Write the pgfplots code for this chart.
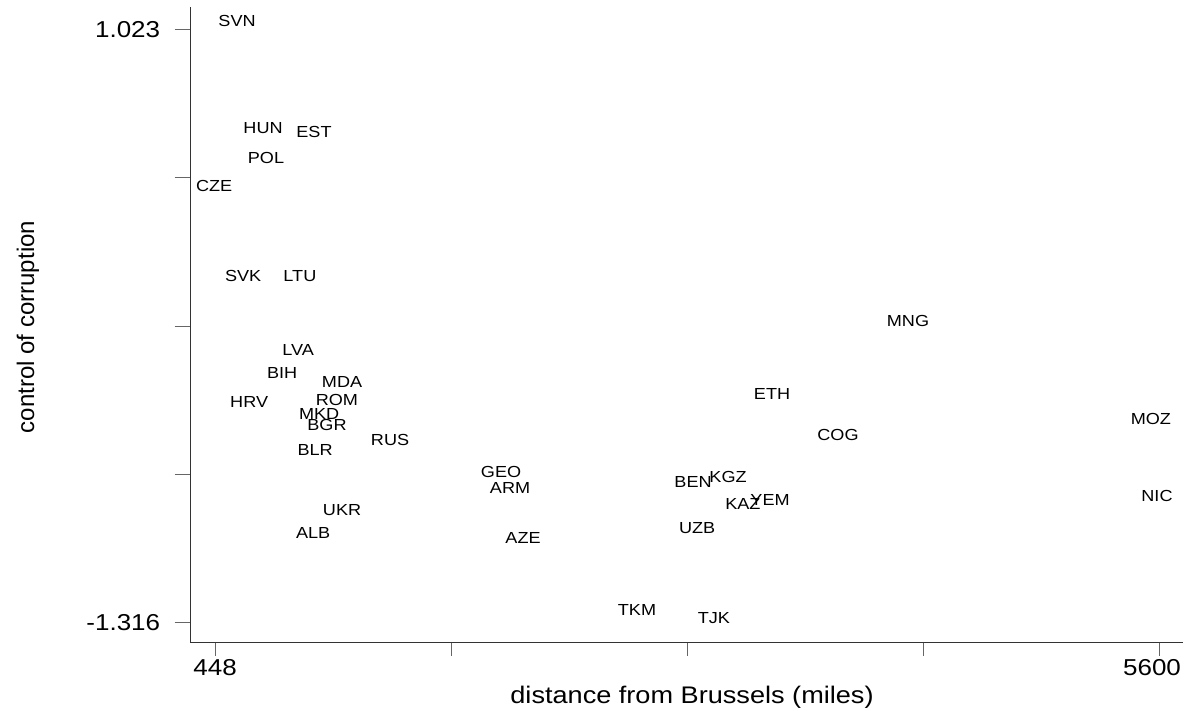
\documentclass[border=0pt]{standalone}
\usepackage{pgfplots}
\pgfplotsset{compat=1.18}
\usepackage{fontspec}
\setmainfont{Liberation Sans}[FakeStretch=1.13]
\newfontfamily\ylabfont{Liberation Sans}

\begin{document}
\begin{tikzpicture}
\useasboundingbox (0,0) rectangle (1186pt,-710pt);
\begin{axis}[
 at={(190.7pt,-642.7pt)}, anchor=south west,
 scale only axis, width=992.3pt, height=635.4pt,
 xmin=315, xmax=5731, ymin=-1.3948, ymax=1.1097,
 axis x line*=bottom, axis y line*=left,
 axis line style={-, line width=1pt, black!80},
 tick align=outside,
 major tick length=16pt,
 tick style={line width=1pt, black!60},
 xtick=\empty,
 extra x ticks={448,1736,3024,4312,5600},
 extra x tick labels={448,{},{},{},\hspace*{-14pt}5600},
 extra x tick style={major tick length=13pt},
 ytick={1.023,0.43825,-0.1465,-0.73125,-1.316},
 yticklabels={1.023,{},{},{},-1.316},
 ticklabel style={font=\fontsize{23}{28}\selectfont},
 yticklabel style={xshift=-11pt},
 xlabel={distance from Brussels (miles)},
 ylabel={control of corruption},
 xlabel style={at={(axis description cs:0.5052,-0.0949)}, anchor=base, font=\fontsize{24}{29}\selectfont},
 ylabel style={at={(axis description cs:-0.164,0.4969)}, anchor=center, font=\ylabfont\fontsize{24}{29}\selectfont},
 clip=false,
 nodes near coords, point meta=explicit symbolic,
 every node near coord/.append style={anchor=center, font=\fontsize{16}{19}\selectfont, text=black},
]
\addplot[only marks, mark=none] table[meta=lab] {
x y lab
568 1.0545 SVN
710 0.633 HUN
988 0.617 EST
726 0.515 POL
443 0.405 CZE
601 0.050 SVK
911 0.050 LTU
4230 -0.127 MNG
901 -0.241 LVA
814 -0.332 BIH
1141 -0.367 MDA
3488 -0.414 ETH
634 -0.446 HRV
1113 -0.438 ROM
1016 -0.493 MKD
1059 -0.536 BGR
5556 -0.513 MOZ
3848 -0.576 COG
1403 -0.595 RUS
994 -0.635 BLR
2009 -0.721 GEO
3248 -0.741 KGZ
3057 -0.761 BEN
2058 -0.784 ARM
3477 -0.832 YEM
5589 -0.816 NIC
3329 -0.847 KAZ
1141 -0.871 UKR
3079 -0.942 UZB
983 -0.962 ALB
2129 -0.981 AZE
2751 -1.265 TKM
3171 -1.296 TJK
};
\end{axis}
\end{tikzpicture}
\end{document}
